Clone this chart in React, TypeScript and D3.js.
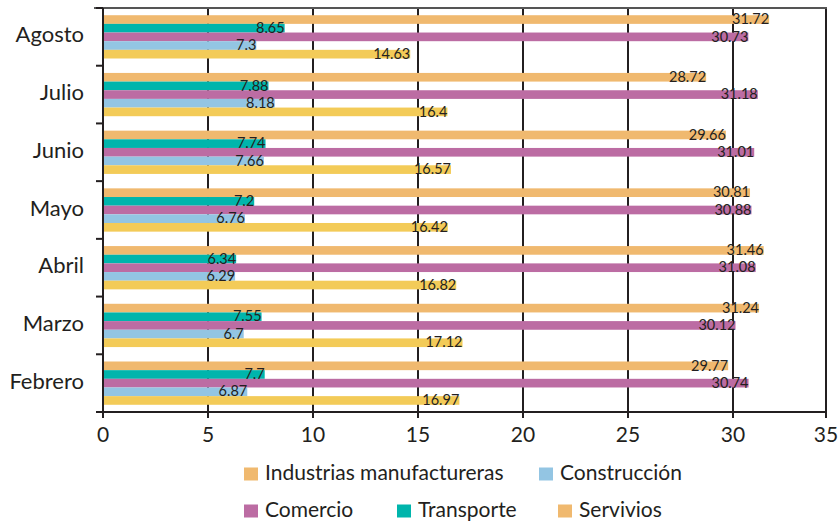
import React from 'react';
import * as d3 from 'd3';

const months = ['Agosto', 'Julio', 'Junio', 'Mayo', 'Abril', 'Marzo', 'Febrero'];
const seriesNames = ['Industrias manufactureras', 'Transporte', 'Comercio', 'Construcción', 'Servivios'];

const industrias = [31.72, 28.72, 29.66, 30.81, 31.46, 31.24, 29.77];
const transporte = [8.65, 7.88, 7.74, 7.2, 6.34, 7.55, 7.7];
const comercio = [30.73, 31.18, 31.01, 30.88, 31.08, 30.12, 30.74];
const construccion = [7.3, 8.18, 7.66, 6.76, 6.29, 6.7, 6.87];
const servicios = [14.63, 16.4, 16.57, 16.42, 16.82, 17.12, 16.97];

const xTicks = [0, 5, 10, 15, 20, 25, 30, 35];

const barColors = ['#F0B96F', '#00B5AC', '#BC6CA3', '#93C5E3', '#F3CB58'];
const legendColors = ['#F0B96F', '#00B5AC', '#BC6CA3', '#93C5E3', '#F0B96F'];

const W = 838;
const H = 526;
const ink = '#231f20';
const font = 'Lato, "Open Sans", sans-serif';

const App: React.FC = () => {
  const values = [industrias, transporte, comercio, construccion, servicios];

  // the right edge of the source picture is a little squeezed past 32
  const x = d3.scaleLinear().domain([0, 32, 35]).range([103, 775, 826]);
  const y = d3.scaleBand().domain(months).range([8, 412]).paddingInner(0.25).paddingOuter(0.125);
  const inner = d3.scaleBand().domain(seriesNames).range([0, y.bandwidth()]);
  const step = y.step();

  const legend = [
    { name: 'Industrias manufactureras', c: legendColors[0], x: 244, y: 474 },
    { name: 'Construcción', c: legendColors[3], x: 539, y: 474 },
    { name: 'Comercio', c: legendColors[2], x: 244, y: 511 },
    { name: 'Transporte', c: legendColors[1], x: 397, y: 511 },
    { name: 'Servivios', c: legendColors[4], x: 558, y: 511 },
  ];

  return (
    <svg width={W} height={H} style={{ position: 'absolute', left: 0, top: 0, background: '#fff' }} fontFamily={font}>
      {/* grid lines */}
      {xTicks.slice(1).map((t) => (
        <line key={t} x1={x(t)} x2={x(t)} y1={8} y2={412} stroke={ink} strokeWidth={2} />
      ))}
      <line x1={94} x2={827} y1={8} y2={8} stroke="#555" strokeWidth={2} />

      {/* bars */}
      {months.map((m, i) => (
        <g key={m} transform={`translate(0,${y(m)})`}>
          {seriesNames.map((s, j) => (
            <rect
              key={s}
              x={x(0)}
              y={inner(s)}
              width={x(values[j][i]) - x(0)}
              height={inner.bandwidth()}
              fill={barColors[j]}
            />
          ))}
          {seriesNames.map((s, j) => (
            <text
              key={s}
              x={x(values[j][i])}
              y={(inner(s) as number) + inner.bandwidth() / 2 + 1}
              textAnchor="end"
              dominantBaseline="middle"
              fontSize={14.5}
              fill={ink}
            >
              {values[j][i]}
            </text>
          ))}
        </g>
      ))}

      {/* y axis */}
      <line x1={x(0)} x2={x(0)} y1={8} y2={413} stroke={ink} strokeWidth={2} />
      {d3.range(months.length + 1).map((k) => (
        <line key={k} x1={96} x2={x(0)} y1={8 + k * step} y2={8 + k * step} stroke={ink} strokeWidth={2} />
      ))}
      {months.map((m) => (
        <text
          key={m}
          x={84}
          y={(y(m) as number) + y.bandwidth() / 2}
          textAnchor="end"
          dominantBaseline="middle"
          fontSize={22}
          fill={ink}
        >
          {m}
        </text>
      ))}

      {/* x axis */}
      <line x1={96} x2={827} y1={412} y2={412} stroke={ink} strokeWidth={2} />
      {xTicks.map((t) => (
        <g key={t}>
          <line x1={x(t)} x2={x(t)} y1={412} y2={418} stroke={ink} strokeWidth={2} />
          <text x={x(t)} y={437} textAnchor="middle" dominantBaseline="middle" fontSize={21} fill={ink}>
            {t}
          </text>
        </g>
      ))}

      {/* legend */}
      {legend.map((l) => (
        <g key={l.name}>
          <rect x={l.x} y={l.y - 6.5} width={14} height={13} fill={l.c} />
          <text x={l.x + 21} y={l.y + 1} dominantBaseline="middle" fontSize={21} fill={ink}>
            {l.name}
          </text>
        </g>
      ))}
    </svg>
  );
};

export default App;
